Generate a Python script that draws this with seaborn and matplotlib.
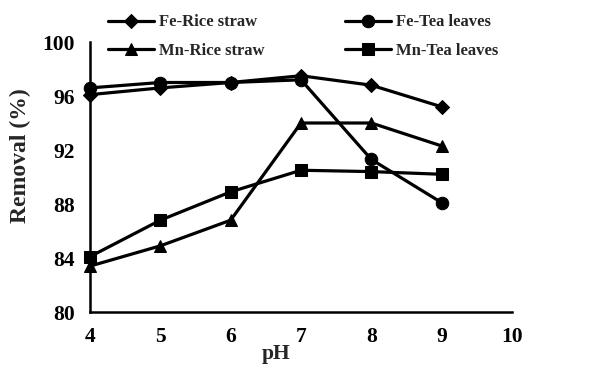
import pandas as pd
import matplotlib.pyplot as plt
import seaborn as sns

# datos
ph = [4, 5, 6, 7, 8, 9]
fe_rice = [96.1, 96.6, 97.0, 97.5, 96.8, 95.2]
fe_tea = [96.6, 97.0, 97.0, 97.2, 91.3, 88.1]
mn_rice = [83.4, 84.9, 86.8, 94.0, 94.0, 92.3]
mn_tea = [84.1, 86.8, 88.9, 90.5, 90.4, 90.2]

series = {
    'Fe-Rice straw': fe_rice,
    'Mn-Rice straw': mn_rice,
    'Fe-Tea leaves': fe_tea,
    'Mn-Tea leaves': mn_tea,
}
rows = []
for name, vals in series.items():
    for x, v in zip(ph, vals):
        rows.append({'pH': x, 'Removal': v, 'Serie': name})
df = pd.DataFrame(rows)

sns.set_style('white')
plt.rcParams['font.family'] = ['Liberation Serif', 'DejaVu Serif']
plt.rcParams['font.weight'] = 'bold'

fig = plt.figure(figsize=(5.91, 3.69), dpi=100)
ax = fig.add_axes([90 / 591, 1 - 312 / 369, 422 / 591, 270 / 369])

orden = list(series.keys())
markers = {'Fe-Rice straw': 'D', 'Mn-Rice straw': '^', 'Fe-Tea leaves': 'o', 'Mn-Tea leaves': 's'}
sizes_m = {'Fe-Rice straw': 7, 'Mn-Rice straw': 9, 'Fe-Tea leaves': 9, 'Mn-Tea leaves': 9}

for name in orden:
    sub = df[df['Serie'] == name]
    sns.lineplot(data=sub, x='pH', y='Removal', ax=ax, color='black', linewidth=2.3,
                 marker=markers[name], markersize=sizes_m[name], markeredgecolor='black',
                 label=name, clip_on=False)

ax.set_xlim(4, 10)
ax.set_ylim(80, 100)
ax.set_xticks([4, 5, 6, 7, 8, 9, 10])
ax.set_yticks([80, 84, 88, 92, 96, 100])
for s in ['top', 'right']:
    ax.spines[s].set_visible(False)
for s in ['left', 'bottom']:
    ax.spines[s].set_linewidth(1.8)
    ax.spines[s].set_color('black')
ax.tick_params(axis='both', direction='out', length=5, width=1.8, labelsize=15.5, pad=6, colors='black')
for lab in ax.get_xticklabels() + ax.get_yticklabels():
    lab.set_fontweight('bold')

ax.set_xlabel('pH', fontsize=15.5, fontweight='bold')
ax.xaxis.set_label_coords(0.44, -0.12)
ax.set_ylabel('Removal (%)', fontsize=17, fontweight='bold')
ax.yaxis.set_label_coords(-0.14, 0.58)

leg = ax.legend(loc='center', bbox_to_anchor=(0.505, 1.02), ncol=2, frameon=False,
                prop={'family': 'Liberation Serif', 'weight': 'bold', 'size': 12},
                handlelength=2.8, columnspacing=4.8, labelspacing=0.75, handletextpad=0.3,
                borderpad=0)

fig.savefig('out.png', dpi=100)
plt.close()
